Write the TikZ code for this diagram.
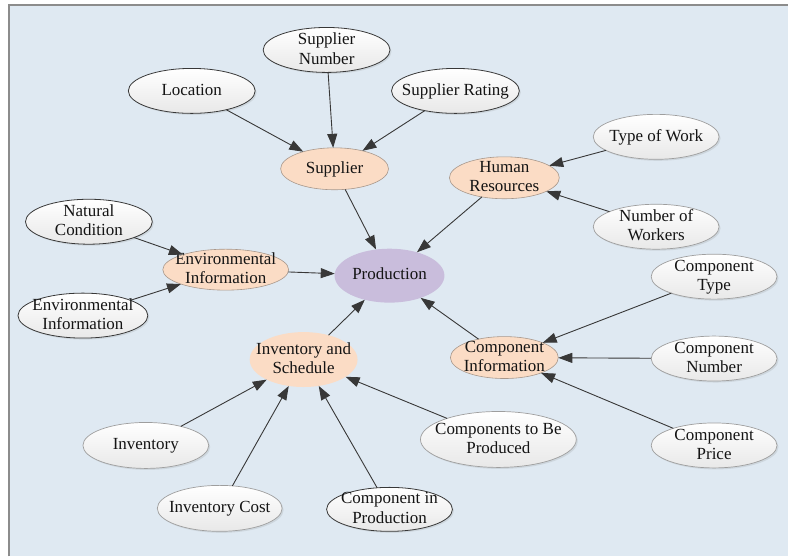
\documentclass[tikz,border=0pt]{standalone}
\usepackage{fontspec}
\setmainfont{Liberation Serif}
\usetikzlibrary{shapes.geometric,arrows.meta,shadows}
\definecolor{bgblue}{HTML}{DFE9F2}
\definecolor{framec}{HTML}{8C8C8C}
\definecolor{hubfill}{HTML}{FBDCC5}
\definecolor{hubdraw}{HTML}{A8988C}
\definecolor{prodfill}{HTML}{C9BDDC}
\definecolor{edgec}{HTML}{383838}
\definecolor{txtc}{HTML}{141414}
\newcommand\etxt[1]{\smash{\makebox[0pt]{\raisebox{-0.28em}{\begin{tabular}{@{}c@{}}#1\end{tabular}}}}}
\begin{document}
\begin{tikzpicture}[x=1pt,y=-1pt,
  base/.style={ellipse, inner sep=0pt, outer sep=0pt, text=txtc,
    font=\fontsize{17}{19.5}\selectfont},
  leafd/.style={base, draw=black!78, line width=0.8pt, top color=white, bottom color=black!9,
    drop shadow={shadow xshift=1.5pt, shadow yshift=-1.5pt, opacity=0.18}},
  leafl/.style={base, draw=black!38, line width=0.7pt, top color=white, bottom color=black!9,
    drop shadow={shadow xshift=1.5pt, shadow yshift=-1.5pt, opacity=0.18}},
  hub/.style={base, draw=hubdraw, line width=0.6pt, fill=hubfill},
  hubsoft/.style={base, fill=hubfill},
  prodst/.style={base, fill=prodfill},
  edge/.style={draw=edgec, line width=0.9pt, -{Triangle[length=14pt,width=10pt]}},
  sz/.style 2 args={minimum width=#1pt, minimum height=#2pt}
]
% background and frame
\fill[white] (0,0) rectangle (789,557);
\fill[bgblue] (9,5) rectangle (789,557);
\draw[framec, line width=2pt] (9,557) -- (9,5) -- (789,5);

% hubs
\node[hub, sz={108}{42}] (sup) at (335,169) {\etxt{Supplier}};
\node[hub, sz={110}{42}] (hr) at (505,178) {\etxt{Human\\Resources}};
\node[hub, sz={126}{41}] (envh) at (226,270) {\etxt{Environmental\\Information}};
\node[prodst, sz={110}{54}] (prod) at (390,276) {\etxt{Production}};
\node[hub, sz={108}{42}] (ci) at (505,358) {\etxt{Component\\Information}};
\node[hubsoft, sz={108}{55}] (ias) at (304,360) {\etxt{Inventory and\\Schedule}};

% leaves
\node[leafd, sz={127}{45}] (sn) at (327,50) {\etxt{Supplier\\Number}};
\node[leafd, sz={127}{45}] (loc) at (192,91) {\etxt{Location}};
\node[leafd, sz={128}{45}] (sr) at (456,91) {\etxt{Supplier Rating}};
\node[leafl, sz={126}{45}] (tow) at (657,137) {\etxt{Type of Work}};
\node[leafl, sz={126}{45}] (now) at (657,227) {\etxt{Number of\\Workers}};
\node[leafd, sz={127}{45}] (nc) at (89,222) {\etxt{Natural\\Condition}};
\node[leafd, sz={130}{45}] (envl) at (83,316) {\etxt{Environmental\\Information}};
\node[leafl, sz={126}{45}] (ct) at (715,277) {\etxt{Component\\Type}};
\node[leafl, sz={126}{45}] (cn) at (715,359) {\etxt{Component\\Number}};
\node[leafl, sz={126}{45}] (cp) at (715,446) {\etxt{Component\\Price}};
\node[leafl, sz={126}{46}] (inv) at (146,446) {\etxt{Inventory}};
\node[leafl, sz={125}{46}] (ic) at (220,509) {\etxt{Inventory Cost}};
\node[leafd, sz={126}{44}] (cip) at (390,510) {\etxt{Component in\\Production}};
\node[leafl, sz={156}{56}] (ctp) at (499,440) {\etxt{Components to Be\\Produced}};

% connectors
\draw[edge] (sn) -- (sup);
\draw[edge] (loc) -- (sup);
\draw[edge] (sr) -- (sup);
\draw[edge] (sup) -- (prod);
\draw[edge] (tow) -- (hr);
\draw[edge] (now) -- (hr);
\draw[edge] (hr) -- (prod);
\draw[edge] (nc) -- (envh);
\draw[edge] (envl) -- (envh);
\draw[edge] (envh) -- (prod);
\draw[edge] (ct) -- (ci);
\draw[edge] (cn) -- (ci);
\draw[edge] (cp) -- (ci);
\draw[edge] (ci) -- (prod);
\draw[edge] (ias) -- (prod);
\draw[edge] (inv) -- (ias);
\draw[edge] (ic) -- (ias);
\draw[edge] (cip) -- (ias);
\draw[edge] (ctp) -- (ias);
\end{tikzpicture}
\end{document}
